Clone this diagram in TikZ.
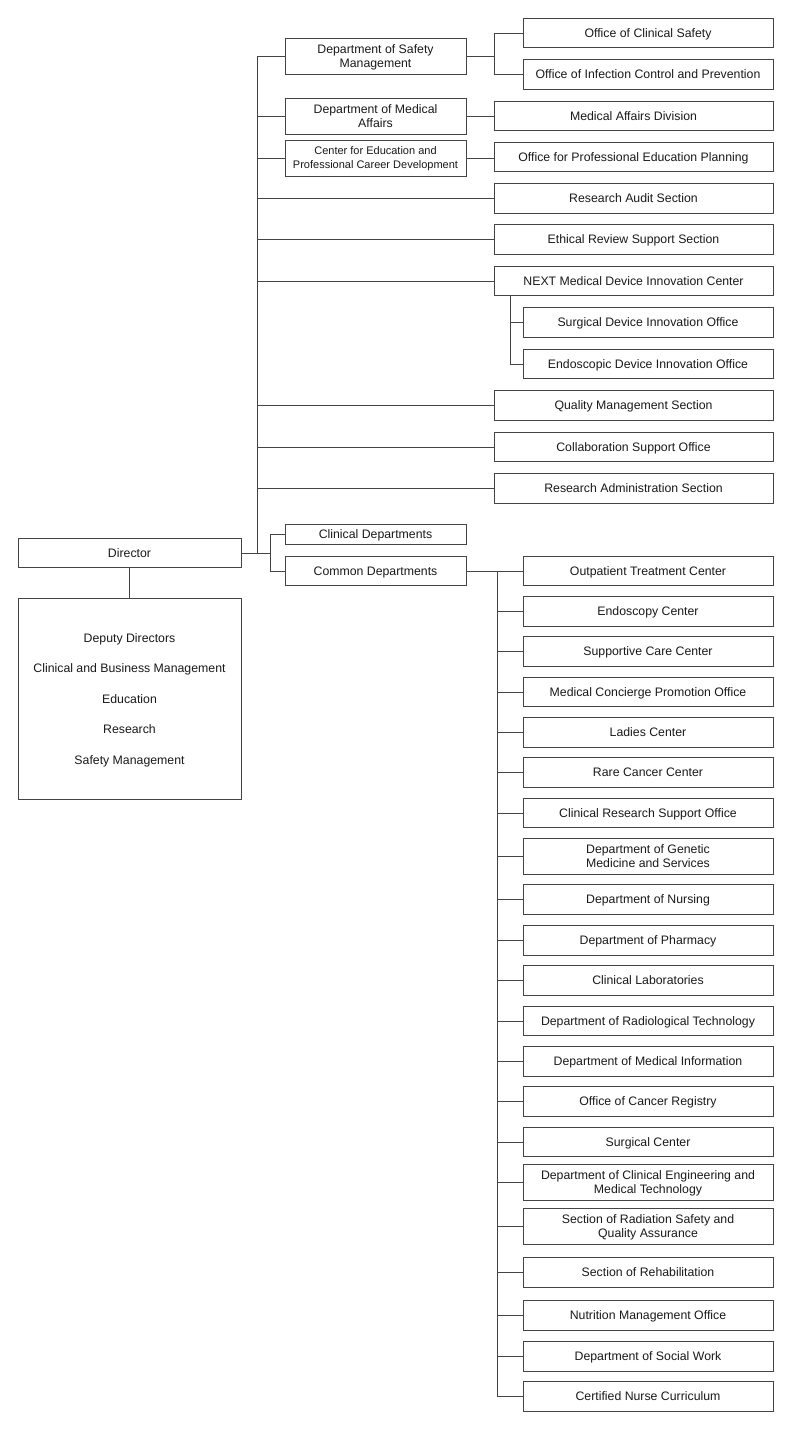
\documentclass[tikz,border=0pt]{standalone}
\usepackage{fontspec}
\setmainfont{Liberation Sans}
\begin{document}
\begin{tikzpicture}[x=1pt,y=-1pt,
  every node/.style={inner sep=0pt,outer sep=0pt},
  box/.style={draw=linec,line width=0.8pt,fill=white,align=center,text=textc,
     font=\fontsize{12.3}{14}\selectfont,text height=8.8pt,text depth=0pt},
  twoline/.style={text height=22.8pt},
  lcol/.style={box,minimum width=181pt},
  wcol/.style={box,minimum width=279pt},
  ncol/.style={box,minimum width=250pt},
  h30/.style={minimum height=29.5pt},
  h36/.style={minimum height=36pt,twoline},
  conn/.style={draw=linec,line width=0.8pt}]
\definecolor{linec}{HTML}{444444}
\definecolor{textc}{HTML}{1A1A1A}
\useasboundingbox (0,0) rectangle (800,1430);

% Director and deputies
\node[box,minimum width=223pt,minimum height=29.5pt] (dir) at (129.5,553) {Director};
\node[box,minimum width=223pt,minimum height=201pt,font=\fontsize{12.3}{30.5}\selectfont,text height=130.8pt] (dep) at (129.5,699)
  {Deputy Directors\\Clinical and Business Management\\Education\\Research\\Safety Management};

% left column
\node[lcol,h36] (safety) at (375.5,56) {Department of Safety\\Management};
\node[lcol,h36] (medaff) at (375.5,116) {Department of Medical\\Affairs};
\node[lcol,h36,font=\fontsize{11}{14}\selectfont,text height=21.9pt] (edu) at (375.5,158) {Center for Education and\\Professional Career Development};
\node[lcol,minimum height=20pt] (clin) at (375.5,534) {Clinical Departments};
\node[lcol,h30] (common) at (375.5,571) {Common Departments};

% upper right
\node[ncol,h30] (ocs) at (648,33) {Office of Clinical Safety};
\node[ncol,h30] (oic) at (648,74.5) {Office of Infection Control and Prevention};
\node[wcol,h30] (mad) at (633.5,116) {Medical Affairs Division};
\node[wcol,h30] (opep) at (633.5,157) {Office for Professional Education Planning};
\node[wcol,h30] (audit) at (633.5,198.5) {Research Audit Section};
\node[wcol,h30] (ethic) at (633.5,239.5) {Ethical Review Support Section};
\node[wcol,h30] (next) at (633.5,281) {NEXT Medical Device Innovation Center};
\node[ncol,h30] (surg) at (648,322.5) {Surgical Device Innovation Office};
\node[ncol,h30] (endo) at (648,364) {Endoscopic Device Innovation Office};
\node[wcol,h30] (qms) at (633.5,405.5) {Quality Management Section};
\node[wcol,h30] (cso) at (633.5,447) {Collaboration Support Office};
\node[wcol,h30] (ras) at (633.5,488.5) {Research Administration Section};

% lower right
\node[ncol,h30] (c1) at (648,571) {Outpatient Treatment Center};
\node[ncol,h30] (c2) at (648,611.5) {Endoscopy Center};
\node[ncol,h30] (c3) at (648,651.5) {Supportive Care Center};
\node[ncol,h30] (c4) at (648,692) {Medical Concierge Promotion Office};
\node[ncol,h30] (c5) at (648,732.5) {Ladies Center};
\node[ncol,h30] (c6) at (648,772.5) {Rare Cancer Center};
\node[ncol,h30] (c7) at (648,813) {Clinical Research Support Office};
\node[ncol,h36] (c8) at (648,856) {Department of Genetic\\Medicine and Services};
\node[ncol,h30] (c9) at (648,899.5) {Department of Nursing};
\node[ncol,h30] (c10) at (648,940.5) {Department of Pharmacy};
\node[ncol,h30] (c11) at (648,980.5) {Clinical Laboratories};
\node[ncol,h30] (c12) at (648,1021) {Department of Radiological Technology};
\node[ncol,h30] (c13) at (648,1061.5) {Department of Medical Information};
\node[ncol,h30] (c14) at (648,1101.5) {Office of Cancer Registry};
\node[ncol,h30] (c15) at (648,1142) {Surgical Center};
\node[ncol,h36] (c16) at (648,1182) {Department of Clinical Engineering and\\Medical Technology};
\node[ncol,h36] (c17) at (648,1226) {Section of Radiation Safety and\\Quality Assurance};
\node[ncol,h30] (c18) at (648,1272.5) {Section of Rehabilitation};
\node[ncol,h30] (c19) at (648,1315.5) {Nutrition Management Office};
\node[ncol,h30] (c20) at (648,1356.5) {Department of Social Work};
\node[ncol,h30] (c21) at (648,1396.5) {Certified Nurse Curriculum};

% coordinates
\coordinate (trunk) at (257,553);
\coordinate (cc) at (270,553);
\coordinate (sb) at (494,56);
\coordinate (nb) at (510,0);
\coordinate (cb) at (497,571);

% connectors
\draw[conn] (dir.south) -- (dep.north);
\draw[conn] (dir.east) -- (cc);
\draw[conn] (cc) |- (clin.west);
\draw[conn] (cc) |- (common.west);
\draw[conn] (trunk) |- (safety.west);
\foreach \n in {medaff,edu,audit,ethic,next,qms,cso,ras}
  \draw[conn] (\n.west) -- (\n.west -| trunk);
\draw[conn] (safety.east) -- (sb);
\draw[conn] (sb) |- (ocs.west);
\draw[conn] (sb) |- (oic.west);
\draw[conn] (medaff.east) -- (mad.west);
\draw[conn] (edu.east) -- (edu.east -| opep.west);
\draw[conn] (next.south -| nb) |- (surg.west);
\draw[conn] (next.south -| nb) |- (endo.west);
\draw[conn] (common.east) -- (c1.west);
\draw[conn] (cb) |- (c21.west);
\foreach \i in {2,...,20}
  \draw[conn] (c\i.west) -- (c\i.west -| cb);
\end{tikzpicture}
\end{document}
